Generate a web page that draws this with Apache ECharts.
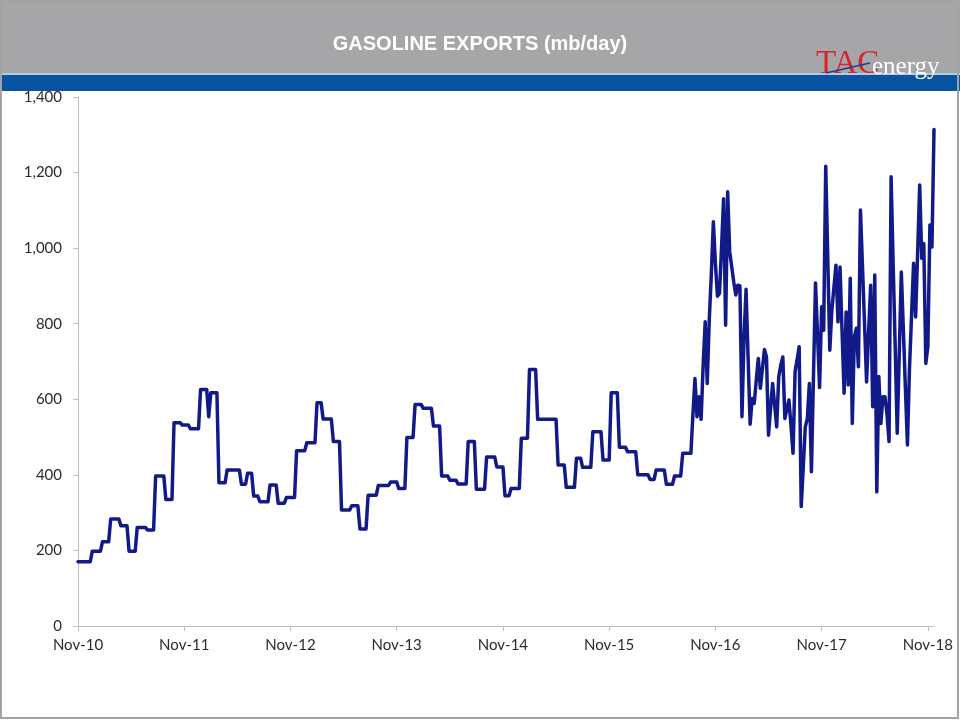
<!DOCTYPE html>
<html>
<head>
<meta charset="utf-8">
<script src="https://cdn.jsdelivr.net/npm/echarts@6/dist/echarts.min.js"></script>
<style>
html,body{margin:0;padding:0;background:#fff;}
#chart{width:960px;height:720px;}
</style>
</head>
<body>
<div id="chart"></div>
<script>
// ---- DATA ----
const chartTitle = 'GASOLINE EXPORTS (mb/day)';
const xTickLabels = ['Nov-10','Nov-11','Nov-12','Nov-13','Nov-14','Nov-15','Nov-16','Nov-17','Nov-18'];
const weeksPerTick = 52;
// Monthly-estimate period: week index where each level starts, and the level (mb/day)
const stepStartWeek = [0,7,12,16,21,25,29,34,38,43,47,51,55,60,64,65,69,73,80,83,86,89,94,98,102,107,112,117,120,125,129,134,138,142,147,153,157,161,165,169,174,178,182,186,191,195,200,205,209,212,217,221,225,235,239,244,247,252,257,261,265,269,274,280,283,288,292,296];
const stepValue     = [170,198,223,283,265,198,261,254,397,335,538,532,522,626,554,617,379,413,375,404,344,329,373,325,340,464,485,591,548,488,307,318,257,346,372,381,364,499,586,576,529,397,386,376,488,362,447,421,345,364,497,679,547,426,367,444,420,514,439,617,473,461,400,388,413,375,397,457];
// Weekly period (from week 301 onwards)
const weeklyStartWeek = 301;
const weeklyValues = [560,655,554,607,547,690,805,642,811,930,
  1070,960,873,880,1000,1131,796,1149,990,950,
  910,876,902,900,554,760,891,710,534,602,
  589,650,708,629,680,732,712,505,575,642,
  585,527,660,690,712,549,575,598,530,457,
  673,705,739,316,420,527,549,642,408,660,
  908,770,631,845,783,1217,975,730,836,895,
  955,805,950,780,616,831,638,920,536,765,
  788,686,1101,950,800,646,780,902,580,929,
  355,660,536,607,607,560,488,1189,960,740,
  510,720,937,785,630,479,682,820,960,818,
  990,1167,973,1012,695,739,1061,1003,1314];

// ---- BUILD SERIES ----
const seriesData = [];
for (let r = 0; r < stepStartWeek.length; r++) {
  const end = r + 1 < stepStartWeek.length ? stepStartWeek[r + 1] : weeklyStartWeek;
  for (let w = stepStartWeek[r]; w < end; w++) seriesData.push(stepValue[r]);
}
weeklyValues.forEach(v => seriesData.push(v));
const categories = seriesData.map((_, i) => (i % weeksPerTick === 0 && xTickLabels[i / weeksPerTick]) ? xTickLabels[i / weeksPerTick] : '');
const isTick = (i) => i % weeksPerTick === 0;

const chart = echarts.init(document.getElementById('chart'), null, {renderer: 'canvas'});
const font = 'Lato, "Liberation Sans", sans-serif';
chart.setOption({
  animation: false,
  backgroundColor: '#ffffff',
  title: {
    text: chartTitle,
    left: 'center',
    top: 29,
    textStyle: {color: '#ffffff', fontSize: 20, fontWeight: 'bold', fontFamily: '"Liberation Sans", Arial, sans-serif'}
  },
  graphic: [
    {type: 'rect', shape: {x: 0, y: 0, width: 960, height: 73}, style: {fill: '#a6a6a8'}, z: -10},
    {type: 'rect', shape: {x: 0, y: 73, width: 960, height: 2}, style: {fill: '#b9c9e0'}, z: -10},
    {type: 'rect', shape: {x: 0, y: 75, width: 960, height: 16}, style: {fill: '#0654a3'}, z: -10},
    {type: 'text', left: 816, top: 48, style: {text: 'TAC', fill: '#d4282e', font: '33px "Liberation Serif", serif'}, z: 10},
    {type: 'text', left: 872, top: 55, style: {text: 'energy', fill: '#ffffff', font: '25px "Liberation Serif", serif'}, z: 10},
    {type: 'line', shape: {x1: 826, y1: 73, x2: 870, y2: 63}, style: {stroke: '#1d3f8f', lineWidth: 1.5}, z: 11},
    {type: 'rect', shape: {x: 1, y: 1, width: 957, height: 717}, style: {fill: 'none', stroke: '#a3a3a3', lineWidth: 2}, z: 20}
  ],
  grid: {left: 78, right: 26, top: 97, bottom: 94, containLabel: false},
  xAxis: {
    type: 'category',
    data: categories,
    boundaryGap: false,
    axisLine: {show: true, lineStyle: {color: '#bfbfbf', width: 1}},
    axisTick: {show: true, interval: (i) => isTick(i), length: 5, lineStyle: {color: '#bfbfbf'}},
    axisLabel: {interval: (i) => isTick(i), margin: 12, color: '#2b2b2b', fontSize: 15, fontFamily: font},
    splitLine: {show: false}
  },
  yAxis: {
    type: 'value',
    min: 0, max: 1400, interval: 200,
    axisLine: {show: true, lineStyle: {color: '#bfbfbf', width: 1}},
    axisTick: {show: true, length: 5, lineStyle: {color: '#bfbfbf'}},
    axisLabel: {margin: 16, color: '#2b2b2b', fontSize: 15, fontFamily: font,
      formatter: (v) => v.toLocaleString('en-US')},
    splitLine: {show: false}
  },
  series: [{
    type: 'line',
    data: seriesData,
    symbol: 'none',
    lineStyle: {color: '#121a8a', width: 3.5, join: 'round', cap: 'round'}
  }]
});
</script>
</body>
</html>
